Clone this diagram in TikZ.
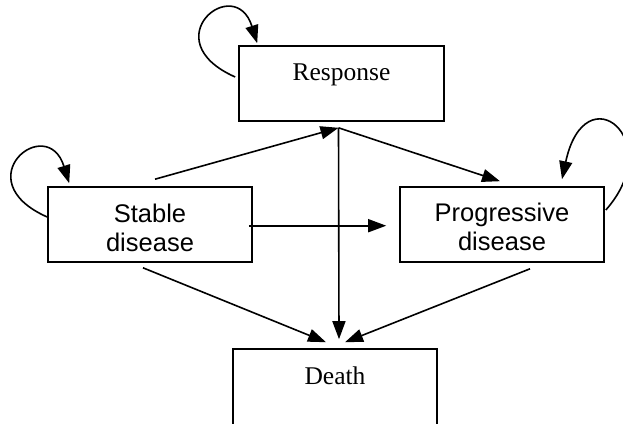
\documentclass[tikz,border=0pt]{standalone}
\usepackage{fontspec}
\setmainfont{Liberation Serif}
\newfontfamily\arialf{Liberation Sans}
\usetikzlibrary{arrows.meta,calc}
\begin{document}
\begin{tikzpicture}[x=1pt,y=-1pt,
  box/.style={draw, line width=1.6pt, minimum width=204pt, minimum height=75pt, inner sep=0pt},
  conn/.style={line width=1.6pt, -{Triangle[length=18pt,width=13pt]}},
  serif/.style={font=\fontsize{25.5}{29}\selectfont, inner sep=0pt},
  sans/.style={font=\arialf\fontsize{25.5}{29}\selectfont, align=center, inner sep=0pt}]
\useasboundingbox (0,0) rectangle (623,423);

\node[box, minimum width=205pt] (resp) at (341.5,83.5) {};
\node[serif, anchor=base] (resptxt) at (341.5,80) {Response};
\node[box] (sd) at (150,224.5) {};
\node[sans] (sdtxt) at (150,228.2) {Stable\\disease};
\node[box] (pd) at (502,224.5) {};
\node[sans] (pdtxt) at (502,227.3) {Progressive\\disease};
\node[box, minimum height=76pt] (death) at (335,387) {};
\node[serif, anchor=base] (deathtxt) at (335,384) {Death};

\coordinate (hub) at ($(resp.south)+(-3,6)$);
\draw[conn] ($(sd.north)+(5,-7)$) -- (hub);
\draw[conn] (hub) -- ($(pd.north)+(-2,-5)$);
\draw[conn] (hub) -- ($(death.north)+(4,-9)$);
\draw[conn] ($(sd.east)+(-4,1.2)$) -- ($(pd.west)+(-13,1.2)$);
\draw[conn] ($(sd.south)+(-7,5)$) -- ($(death.north)+(-9,-6)$);
\draw[conn] ($(pd.south)+(28,6)$) -- ($(death.north)+(10,-6)$);

% self loops
\draw[conn] ($(resp.west)+(-3,-6.5)$) .. controls (152,40) and (235,-28) .. ($(resp.north west)+(19,-2)$);
\draw[conn] ($(sd.west)+(0,-7.5)$) .. controls (-36,180) and (47,112) .. ($(sd.north west)+(22,-3)$);
\draw[conn] ($(pd.east)+(1,-14.5)$) .. controls (668,140) and (585,72) .. ($(pd.north)+(60,-7)$);
\end{tikzpicture}
\end{document}
